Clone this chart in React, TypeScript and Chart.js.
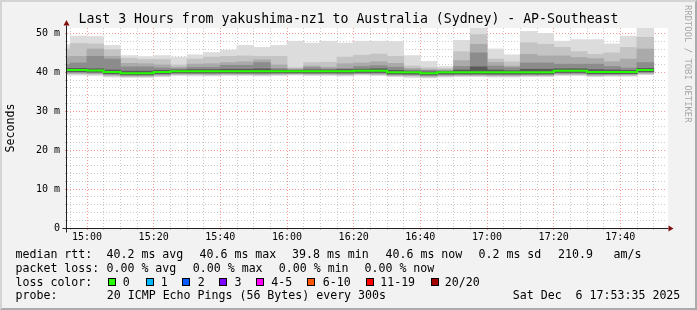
import React, { useEffect, useRef } from 'react';
import { Chart, registerables } from 'chart.js';

Chart.register(...registerables);

// ---- data ----
const columnEnds = [
  '14:55', '15:00', '15:05', '15:10', '15:15', '15:20', '15:25', '15:30', '15:35', '15:40', '15:45', '15:50',
  '15:55', '16:00', '16:05', '16:10', '16:15', '16:20', '16:25', '16:30', '16:35', '16:40', '16:45', '16:50',
  '16:55', '17:00', '17:05', '17:10', '17:15', '17:20', '17:25', '17:30', '17:35', '17:40', '17:45', '17:50',
];
const medianRtt = [40.6, 40.6, 40.5, 40.1, 39.8, 39.8, 40.1, 40.3, 40.3, 40.3, 40.3, 40.3, 40.3, 40.3, 40.3, 40.3, 40.3, 40.3, 40.4, 40.4, 40.0, 40.0, 39.8, 40.0, 40.0, 40.0, 40.0, 40.0, 40.0, 40.0, 40.4, 40.4, 40.1, 40.1, 40.1, 40.6];
const smokeHi1 = [47.1, 49.3, 49.2, 46.9, 44.3, 44.0, 44.3, 43.9, 44.5, 45.1, 45.7, 46.9, 46.4, 46.9, 48.0, 47.5, 48.0, 47.5, 48.0, 48.0, 47.9, 44.3, 42.8, 41.5, 48.2, 52.0, 46.0, 44.5, 50.5, 50.0, 48.0, 48.4, 48.4, 47.3, 49.3, 52.0];
const smokeHi2 = [46.0, 47.4, 47.3, 45.8, 43.6, 43.3, 43.3, 41.9, 43.4, 43.9, 44.1, 44.2, 44.1, 44.1, 41.2, 42.5, 42.6, 43.9, 44.4, 44.7, 44.1, 41.6, 41.2, 41.0, 45.3, 49.7, 43.4, 42.7, 47.6, 47.2, 46.4, 45.3, 44.6, 45.0, 46.4, 49.0];
const smokeHi3 = [44.0, 44.1, 46.0, 44.1, 42.3, 42.2, 41.9, 41.3, 42.1, 42.2, 42.5, 42.7, 43.2, 41.9, 40.9, 41.6, 41.3, 42.2, 42.4, 42.7, 42.3, 41.0, 40.7, 40.6, 43.0, 47.2, 42.5, 41.6, 44.6, 44.2, 44.2, 43.8, 43.5, 42.7, 43.4, 46.0];
const smokeHi4 = [42.0, 42.4, 44.1, 43.4, 41.4, 41.4, 41.1, 40.9, 41.3, 41.3, 41.8, 41.8, 42.5, 41.0, 40.7, 41.2, 40.9, 41.0, 41.5, 41.7, 41.3, 40.6, 40.5, 40.4, 41.5, 45.0, 41.6, 41.2, 42.4, 42.4, 42.1, 42.1, 42.1, 41.5, 41.1, 42.5];
const smokeHi5 = [41.0, 41.0, 40.9, 40.6, 40.3, 40.3, 40.5, 40.6, 40.7, 40.7, 40.8, 40.8, 40.9, 40.6, 40.5, 40.6, 40.6, 40.7, 40.8, 40.9, 40.5, 40.3, 40.1, 40.2, 40.6, 41.4, 40.6, 40.4, 40.8, 40.8, 40.9, 40.9, 40.7, 40.6, 40.5, 41.0];
const smokeLo5 = [40.2, 40.2, 40.1, 39.7, 39.4, 39.4, 39.7, 39.9, 39.9, 39.9, 39.9, 39.9, 39.9, 39.9, 39.9, 39.9, 39.9, 39.9, 40.0, 40.0, 39.6, 39.6, 39.4, 39.6, 39.6, 39.6, 39.6, 39.6, 39.6, 39.6, 40.0, 40.0, 39.7, 39.7, 39.7, 40.2];
const smokeLo4 = [40.0, 40.0, 39.9, 39.5, 39.3, 39.3, 39.5, 39.8, 39.7, 39.7, 39.8, 39.7, 39.7, 39.8, 39.8, 39.7, 39.8, 39.7, 39.8, 39.8, 39.5, 39.4, 39.2, 39.4, 39.5, 39.5, 39.4, 39.4, 39.5, 39.5, 39.8, 39.8, 39.5, 39.5, 39.6, 40.0];
const smokeLo3 = [39.8, 39.8, 39.7, 39.3, 39.1, 39.1, 39.3, 39.6, 39.6, 39.5, 39.6, 39.6, 39.5, 39.6, 39.7, 39.6, 39.6, 39.5, 39.7, 39.6, 39.3, 39.2, 39.0, 39.2, 39.3, 39.3, 39.2, 39.2, 39.3, 39.3, 39.6, 39.6, 39.3, 39.4, 39.4, 39.8];
const smokeLo2 = [39.6, 39.6, 39.5, 39.1, 38.9, 38.9, 39.1, 39.4, 39.4, 39.3, 39.4, 39.4, 39.3, 39.4, 39.5, 39.4, 39.4, 39.3, 39.5, 39.4, 39.1, 39.0, 38.8, 39.0, 39.1, 39.1, 39.0, 39.0, 39.1, 39.1, 39.4, 39.4, 39.1, 39.2, 39.2, 39.6];
const smokeLo1 = [39.3, 39.3, 39.2, 38.8, 38.7, 38.7, 38.9, 39.2, 39.1, 39.1, 39.2, 39.2, 39.1, 39.2, 39.3, 39.2, 39.2, 39.1, 39.3, 39.2, 38.9, 38.7, 38.6, 38.8, 38.9, 38.9, 38.8, 38.8, 38.9, 38.9, 39.2, 39.2, 38.9, 39.0, 39.0, 39.4];

const stepMinutes = 5;
const rangeStart = '14:54';
const rangeEnd = '17:54';
const xTickLabels = ['15:00', '15:20', '15:40', '16:00', '16:20', '16:40', '17:00', '17:20', '17:40'];
const yMajorValues = [0, 10, 20, 30, 40, 50];
const yTickLabels = ['0', '10 m', '20 m', '30 m', '40 m', '50 m'];
const yMax = 51.4;

const titleText = 'Last 3 Hours from yakushima-nz1 to Australia (Sydney) - AP-Southeast';
const rttLabel = 'median rtt:';
const rttStats = ['40.2 ms avg', '40.6 ms max', '39.8 ms min', '40.6 ms now', '0.2 ms sd', '210.9', 'am/s'];
const lossLabel = 'packet loss:';
const lossStats = ['0.00 % avg', '0.00 % max', '0.00 % min', '0.00 % now'];
const lossColorLabel = 'loss color:';
const lossColorNames = ['0', '1', '2', '3', '4-5', '6-10', '11-19', '20/20'];
const lossColorValues = ['#26ff00', '#00b8ff', '#0059ff', '#7e00ff', '#ff00ff', '#ff5500', '#ff0000', '#a10000'];
const probeLabel = 'probe:';
const probeText = '20 ICMP Echo Pings (56 Bytes) every 300s';
const dateText = 'Sat Dec  6 17:53:35 2025';
const watermark = 'RRDTOOL / TOBI OETIKER';

// ---- layout / style ----
const MONO = '"DejaVu Sans Mono", monospace';
const rttX = [106.5, 199.5, 292, 385.5, 478.5, 558, 613.5];
const lossX = [106.5, 192.8, 278.8, 364.5];
const swatchX = [107.7, 145.7, 182.3, 219, 256, 307.3, 365.7, 430.7];
const swatchLabelX = [122.8, 160.8, 197.8, 234.5, 271.2, 322.8, 380.2, 444.8];
const lineTops = [246.7, 260.7, 274.7, 288.3];
const smokeColors = ['#dcdcdc', '#c4c4c4', '#aaaaaa', '#8c8c8c', '#5a5a5a'];

const toMin = (s: string) => {
  const [h, m] = s.split(':').map(Number);
  return h * 60 + m;
};
const fmt = (v: number) => {
  const h = Math.floor(v / 60);
  const m = Math.round(v % 60);
  return `${h}:${m < 10 ? '0' : ''}${m}`;
};

const framePlugin = {
  id: 'rrdFrame',
  beforeDraw(chart: any) {
    const { ctx, chartArea: a } = chart;
    ctx.save();
    ctx.fillStyle = '#ffffff';
    ctx.fillRect(a.left, a.top, a.right - a.left + 1, a.bottom - a.top);
    ctx.restore();
  },
  afterDraw(chart: any) {
    const { ctx, chartArea: a } = chart;
    const ax = a.left - 0.5;
    const ay = Math.round(a.bottom) + 0.5;
    ctx.save();
    ctx.strokeStyle = '#202020';
    ctx.lineWidth = 1;
    ctx.beginPath();
    ctx.moveTo(ax, a.top - 2.5);
    ctx.lineTo(ax, ay + 4);
    ctx.moveTo(ax - 4, ay);
    ctx.lineTo(a.right + 1.5, ay);
    ctx.stroke();
    ctx.fillStyle = 'rgb(128,16,16)';
    ctx.beginPath();
    ctx.moveTo(ax, a.top - 8);
    ctx.lineTo(ax - 3, a.top - 2.5);
    ctx.lineTo(ax + 3, a.top - 2.5);
    ctx.closePath();
    ctx.fill();
    ctx.beginPath();
    ctx.moveTo(a.right + 6.5, ay);
    ctx.lineTo(a.right + 1.5, ay - 3);
    ctx.lineTo(a.right + 1.5, ay + 3);
    ctx.closePath();
    ctx.fill();
    ctx.restore();
  },
};

export default function App() {
  const ref = useRef<HTMLCanvasElement | null>(null);

  useEffect(() => {
    if (!ref.current) return;
    const ends = columnEnds.map(toMin);
    const centers = ends.map((e) => e - stepMinutes / 2);
    const band = (lo: number[], hi: number[], color: string) => ({
      type: 'bar' as const,
      data: centers.map((c, i) => ({ x: c, y: [lo[i], hi[i]] })),
      backgroundColor: color,
      borderWidth: 0,
      barPercentage: 1,
      categoryPercentage: 1,
      grouped: false,
      inflateAmount: 0.4,
    });
    const medianPoints = [
      { x: ends[0] - stepMinutes, y: medianRtt[0] },
      ...ends.map((e, i) => ({ x: e, y: medianRtt[i] })),
    ];
    const xMin = toMin(rangeStart);
    const xMax = toMin(rangeEnd);
    const minorTimes: number[] = [];
    for (let t = Math.ceil(xMin / stepMinutes) * stepMinutes; t < xMax; t += stepMinutes) minorTimes.push(t);
    const majorX = xTickLabels.map(toMin);
    const yMinor: number[] = [];
    for (let v = 0; v <= 50; v += 2) yMinor.push(v);

    const grey = 'rgba(150,150,150,0.5)';
    const red = 'rgba(240,70,70,0.55)';

    const chart = new Chart(ref.current, {
      type: 'bar',
      data: {
        datasets: [
          {
            type: 'line',
            data: medianPoints,
            borderColor: '#26ff00',
            borderWidth: 2,
            stepped: 'after',
            pointRadius: 0,
            fill: false,
            tension: 0,
          } as any,
          band(smokeLo5, smokeHi5, smokeColors[4]),
          band(smokeLo4, smokeHi4, smokeColors[3]),
          band(smokeLo3, smokeHi3, smokeColors[2]),
          band(smokeLo2, smokeHi2, smokeColors[1]),
          band(smokeLo1, smokeHi1, smokeColors[0]),
        ],
      },
      options: {
        animation: false,
        responsive: false,
        events: [],
        layout: { padding: { left: 0, right: 30, top: 28, bottom: 0 } },
        plugins: { legend: { display: false }, tooltip: { enabled: false }, title: { display: false } },
        scales: {
          x: {
            type: 'linear',
            min: xMin,
            max: xMax,
            offset: false,
            z: 1,
            afterBuildTicks: (s: any) => {
              s.ticks = minorTimes.map((v) => ({ value: v }));
            },
            afterFit: (s: any) => {
              s.height = 82;
            },
            grid: {
              offset: false,
              lineWidth: 1,
              color: (c: any) => (c.tick && majorX.includes(c.tick.value) ? red : grey),
              tickColor: (c: any) => (c.tick && majorX.includes(c.tick.value) ? red : grey),
              tickLength: 2,
              tickBorderDash: [],
            },
            border: { display: false, dash: [1, 2] },
            ticks: {
              autoSkip: false,
              maxRotation: 0,
              minRotation: 0,
              padding: 1,
              color: '#000',
              font: { family: 'DejaVu Sans Mono', size: 10 },
              callback: (v: any) => {
                const s = fmt(Number(v));
                return xTickLabels.includes(s) ? s : '';
              },
            },
          },
          y: {
            type: 'linear',
            min: 0,
            max: yMax,
            z: 1,
            afterBuildTicks: (s: any) => {
              s.ticks = yMinor.map((v) => ({ value: v }));
            },
            afterFit: (s: any) => {
              s.width = 67;
            },
            grid: {
              lineWidth: 1,
              color: (c: any) => {
                const v = c.tick ? c.tick.value : -1;
                if (v === 0) return 'rgba(0,0,0,0)';
                return yMajorValues.includes(v) ? red : grey;
              },
              tickColor: (c: any) => (c.tick && yMajorValues.includes(c.tick.value) ? red : grey),
              tickLength: 2,
              tickBorderDash: [],
            },
            border: { display: false, dash: [1, 2] },
            ticks: {
              autoSkip: false,
              padding: 5,
              color: '#000',
              font: { family: 'DejaVu Sans Mono', size: 10 },
              callback: (v: any) => {
                const idx = yMajorValues.indexOf(Number(v));
                return idx >= 0 ? yTickLabels[idx] : '';
              },
            },
            title: {
              display: true,
              text: 'Seconds',
              color: '#000',
              font: { family: 'DejaVu Sans Mono', size: 11.6 },
              padding: { top: 4, bottom: 0 },
            },
          },
        },
      } as any,
      plugins: [framePlugin],
    });
    return () => chart.destroy();
  }, []);

  const text = (s: string, left: number, top: number, key: string) => (
    <span key={key} style={{ position: 'absolute', left, top, whiteSpace: 'pre' }}>
      {s}
    </span>
  );

  return (
    <div
      style={{
        position: 'fixed',
        left: 0,
        top: 0,
        width: 697,
        height: 310,
        background: '#f2f2f2',
        overflow: 'hidden',
        fontFamily: MONO,
        color: '#000',
      }}
    >
      <canvas ref={ref} width={697} height={310} style={{ position: 'absolute', left: 0, top: 0, display: 'block' }} />
      <div
        style={{
          position: 'absolute',
          left: 0,
          top: 11,
          width: 697,
          textAlign: 'center',
          fontSize: 13.2,
          lineHeight: '16px',
          whiteSpace: 'pre',
        }}
      >
        {titleText}
      </div>
      <div style={{ position: 'absolute', left: 0, top: 0, width: 697, height: 310, fontSize: 11.6, lineHeight: '14px' }}>
        {text(rttLabel, 15.5, lineTops[0], 'rl')}
        {rttStats.map((s, i) => text(s, rttX[i], lineTops[0], 'r' + i))}
        {text(lossLabel, 15.5, lineTops[1], 'll')}
        {lossStats.map((s, i) => text(s, lossX[i], lineTops[1], 'l' + i))}
        {text(lossColorLabel, 15.5, lineTops[2], 'cl')}
        {lossColorValues.map((c, i) => (
          <span
            key={'sw' + i}
            style={{
              position: 'absolute',
              left: swatchX[i],
              top: 278,
              width: 8,
              height: 8,
              boxSizing: 'border-box',
              border: '1px solid #000',
              background: c,
            }}
          />
        ))}
        {lossColorNames.map((s, i) => text(s, swatchLabelX[i], lineTops[2], 'cn' + i))}
        {text(probeLabel, 15.5, lineTops[3], 'pl')}
        {text(probeText, 106.8, lineTops[3], 'pt')}
        {text(dateText, 512.8, lineTops[3], 'dt')}
      </div>
      <div
        style={{
          position: 'absolute',
          left: 692,
          top: 4.5,
          transform: 'rotate(90deg)',
          transformOrigin: 'left top',
          fontSize: 8.9,
          lineHeight: '8.9px',
          color: '#a6a6a6',
          whiteSpace: 'pre',
        }}
      >
        {watermark}
      </div>
      <div
        style={{
          position: 'absolute',
          left: 0,
          top: 0,
          width: 697,
          height: 310,
          boxSizing: 'border-box',
          borderTop: '2px solid #d4d4d4',
          borderLeft: '2px solid #d4d4d4',
          borderRight: '2px solid #ababab',
          borderBottom: '2px solid #ababab',
          pointerEvents: 'none',
        }}
      />
    </div>
  );
}
